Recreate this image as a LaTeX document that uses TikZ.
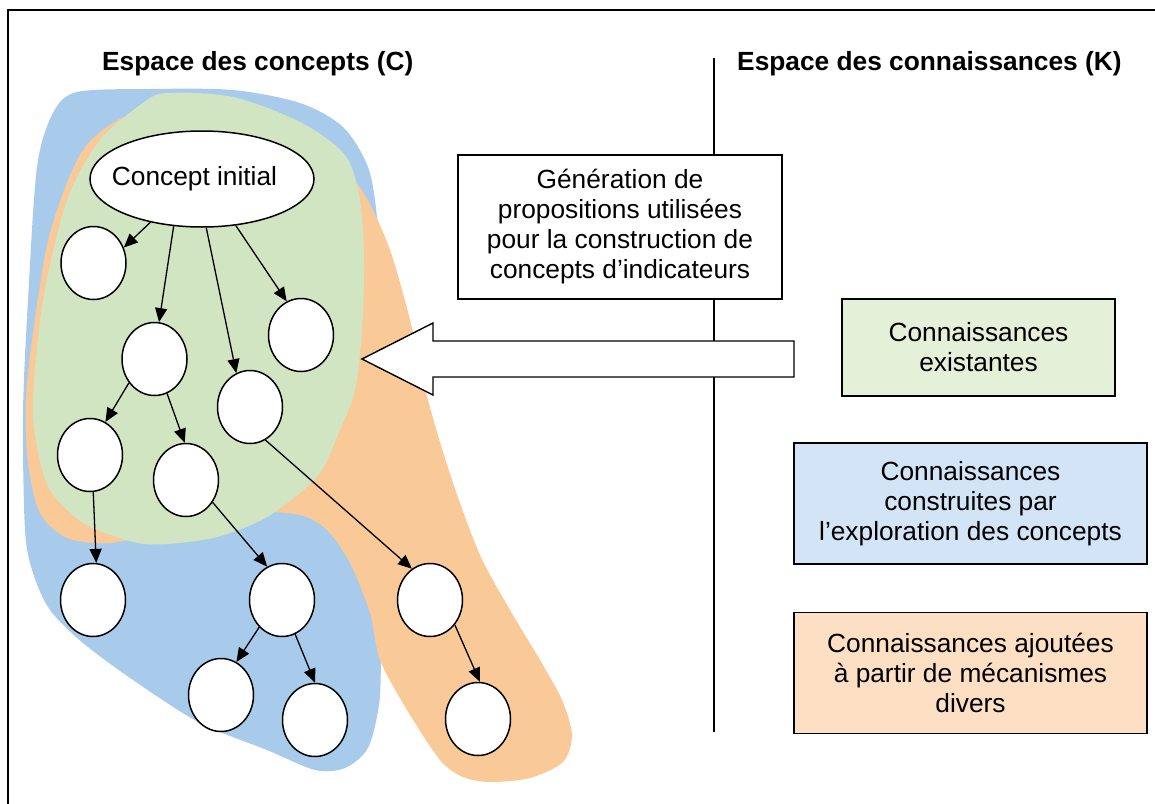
\documentclass[tikz,border=0pt]{standalone}
\usepackage{fontspec}
\setmainfont{Liberation Sans}
\usetikzlibrary{shapes.geometric, arrows.meta, positioning}
\definecolor{cktext}{HTML}{000000}
\definecolor{ckblue}{HTML}{A9CBEB}
\definecolor{ckgreen}{HTML}{D2E5C3}
\definecolor{ckorange}{HTML}{F9C998}
\definecolor{ckboxgreen}{HTML}{E5F0D9}
\definecolor{ckboxblue}{HTML}{D2E4F5}
\definecolor{ckboxorange}{HTML}{FDDFC3}
\tikzset{
  concept/.style={ellipse, draw=black, fill=white, line width=1.5pt,
              minimum width=65pt, minimum height=73pt, inner sep=0pt},
  cinit/.style={concept, minimum width=224pt, minimum height=96pt, inner xsep=-12pt},
  kbox/.style={rectangle, draw=black, line width=1.4pt, align=center,
              text=cktext, inner sep=4pt},
  gen/.style={kbox, fill=white, minimum width=324pt, minimum height=144pt},
  lien/.style={-{Triangle[length=14pt, width=12pt]}, draw=black, line width=1.3pt},
  titre/.style={font={\fontsize{26.3}{30}\selectfont\bfseries}, anchor=base west, inner sep=0pt},
}

\begin{document}
\begin{tikzpicture}[x=1pt, y=-1pt, every node/.style={font=\fontsize{26.3}{30}\selectfont}]
  \useasboundingbox (0,0) rectangle (1155,803);
  \draw[line width=2pt] (8,10) rectangle (1200,850);
  % zones
  \fill[ckblue] plot[smooth cycle] coordinates {(77,92) (150,89) (233,90) (300,103) (343,127)
    (368,167) (377,217) (383,300) (383,450) (382,580) (381,660) (379,705) (368,748) (345,768)
    (315,770) (267,750) (200,723) (133,680) (83,643) (50,610) (33,573) (25,530) (23,413)
    (28,300) (37,167) (53,113)};
  \fill[ckorange] plot[smooth cycle] coordinates {(133,113) (200,108) (280,125) (340,165)
    (366,197) (390,250) (410,320) (428,400) (452,480) (480,555) (510,610) (540,660)
    (562,700) (572,735) (563,762) (530,778) (490,782) (463,777) (440,760) (407,710)
    (380,660) (370,613) (350,563) (327,530) (300,515) (253,512) (210,520) (160,532)
    (110,543) (67,538) (40,513) (28,463) (26,400) (33,333) (50,233) (83,150)};
  \fill[ckgreen] plot[smooth cycle] coordinates {(167,93) (233,97) (300,122) (345,155)
    (360,200) (364,260) (362,330) (355,390) (340,430) (317,477) (267,517) (217,537)
    (167,544) (133,542) (83,523) (50,490) (37,447) (33,400) (43,300) (67,200) (100,140)
    (143,103)};
  % separation C / K
  \coordinate (septop) at (714,58);
  \coordinate (sepbot) at (714,732);
  \draw[line width=1.3pt] (septop) -- (sepbot);
  \draw[fill=white, line width=1.4pt] (362,359) -- (433,323) -- (433,341) -- (794,341)
    -- (794,377) -- (433,377) -- (433,395) -- cycle;
  \node[titre] (titc) at (102,70) {Espace des concepts (C)};
  \node[titre] (titk) at (737,70) {Espace des connaissances (K)};
  \node[gen] (gen) at (620,227) {Génération de\\propositions utilisées\\pour la construction de\\concepts d’indicateurs};
  \node[kbox, fill=ckboxgreen, minimum width=273pt, minimum height=97pt] (kexist) at (978.5,347.5) {Connaissances\\existantes};
  \node[kbox, fill=ckboxblue, minimum width=353pt, minimum height=121pt] (kexplo) at (970.5,503.5) {Connaissances\\construites par\\l’exploration des concepts};
  \node[kbox, fill=ckboxorange, minimum width=353pt, minimum height=121pt, below=47pt of kexplo] (kajout) {Connaissances ajoutées\\à partir de mécanismes\\divers};
  % arbre des concepts
  \node[cinit] (ci) at (202,179) {Concept initial\hspace*{15pt}};
  \node[concept] (c1) at (93.5,263) {};
  \node[concept] (c2) at (154.5,359) {};
  \node[concept] (c3) at (301,335) {};
  \node[concept] (c4) at (250,407) {};
  \node[concept] (c5) at (90,455) {};
  \node[concept] (c6) at (186,480) {};
  \node[concept] (c7) at (93,600) {};
  \node[concept] (c8) at (282,600) {};
  \node[concept] (c9) at (430,600) {};
  \node[concept] (c10) at (221,695) {};
  \node[concept] (c11) at (315,720) {};
  \node[concept] (c12) at (478,719) {};
  \draw[lien] (ci.220) -- (c1.27);
  \draw[lien] (ci.239) -- (c2.83);
  \draw[lien] (ci.275) -- (c4.112);
  \draw[lien] (ci.306) -- (c3.113);
  \draw[lien] (c2.223) -- (c5.65);
  \draw[lien] (c2.290) -- (c6.92);
  \draw[lien] (c5.275) -- (c7.85);
  \draw[lien] (c6.320) -- (c8.114);
  \draw[lien] (c4.295) -- (c9.120);
  \draw[lien] (c8.230) -- (c10.65);
  \draw[lien] (c8.291) -- (c11.90);
  \draw[lien] (c9.315) -- (c12.87);
\end{tikzpicture}
\end{document}
